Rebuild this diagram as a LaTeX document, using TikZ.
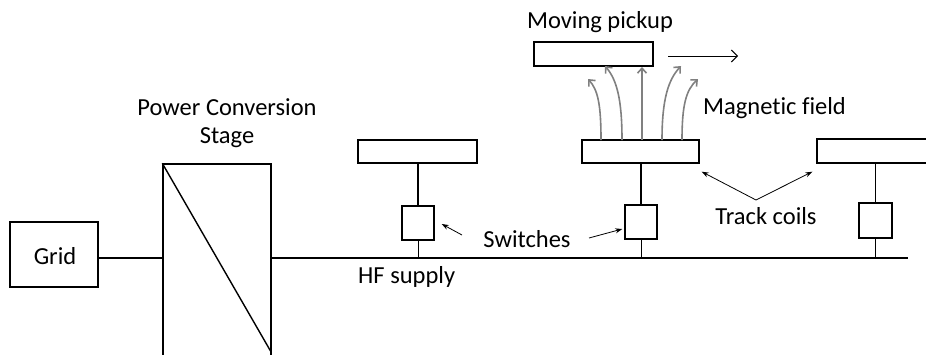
\documentclass[tikz,border=0pt]{standalone}
\usepackage{fontspec}
\setmainfont[Ligatures={NoCommon}]{Carlito}
\usetikzlibrary{arrows.meta,calc}
\tikzset{
  lbl/.style={font=\fontsize{24.5}{28}\selectfont, inner sep=0pt, align=center},
  blk/.style={draw, line width=1.4pt, inner sep=0pt},
  wire/.style={line width=1.4pt},
  thinwire/.style={line width=0.8pt},
  pointer/.style={line width=0.8pt, -{Stealth[length=7pt,width=5pt]}},
  field/.style={draw=gray, line width=1.6pt, -{Straight Barb[length=5pt,width=9pt]}}
}
\begin{document}
\begin{tikzpicture}[x=1pt,y=-1pt]
\useasboundingbox (0,0) rectangle (926,354);
\clip (0,0) rectangle (926,354);
% blocks
\node[blk, minimum width=88pt, minimum height=65pt] (grid) at (54,254.5) {};
\node[lbl] (gridt) at (55,256) {Grid};
\node[blk, minimum width=108pt, minimum height=200pt] (pcs) at (217,264) {};
\draw[wire] (pcs.north west) -- ($(pcs.north east)+(-1,188)$);
\node[lbl] (pcst) at (227,123) {Power Conversion\\Stage};
\coordinate (hfend) at (908,258);
\draw[wire] (grid.east |- hfend) -- (pcs.west |- hfend);
\draw[wire] (pcs.east |- hfend) -- (hfend);
\node[lbl, anchor=west] (hft) at (358,277) {HF supply};
% coils and switches
\node[blk, minimum width=119pt, minimum height=23pt] (coil1) at (417.5,151.5) {};
\node[blk, minimum width=32pt, minimum height=34pt] (sw1) at (418,223) {};
\node[blk, minimum width=117pt, minimum height=23pt] (coil2) at (640.5,151.5) {};
\node[blk, minimum width=32pt, minimum height=34pt] (sw2) at (641,222) {};
\node[blk, minimum width=125pt, minimum height=24pt] (coil3) at (879.5,151) {};
\node[blk, minimum width=33pt, minimum height=35pt] (sw3) at (875.5,220.5) {};
\foreach \i in {1,2,3}{
  \draw[wire] (sw\i.north |- coil\i.south) -- (sw\i.north);
  \draw[thinwire] (sw\i.south) -- (sw\i.south |- hfend);
}
% pickup
\node[blk, minimum width=119pt, minimum height=24pt] (pickup) at (593.5,54) {};
\node[lbl] (pickupt) at (600,22) {Moving pickup};
\coordinate (mvs) at (668,56);
\coordinate (mve) at (738,56);
\draw[line width=1pt, -{Straight Barb[length=6pt,width=12pt]}] (mvs) -- (mve);
% field lines
\coordinate (f1s) at (601,140); \coordinate (f1e) at (588,79);
\coordinate (f2s) at (622,140); \coordinate (f2e) at (605,66);
\coordinate (f3s) at (642,140); \coordinate (f3e) at (642,67);
\coordinate (f4s) at (662,140); \coordinate (f4e) at (681,66);
\coordinate (f5s) at (682,140); \coordinate (f5e) at (698,79);
\draw[field] (f1s) .. controls (601,105) and (598,90) .. (f1e);
\draw[field] (f2s) .. controls (622,100) and (617,80) .. (f2e);
\draw[field] (f3s) -- (f3e);
\draw[field] (f4s) .. controls (662,100) and (668,80) .. (f4e);
\draw[field] (f5s) .. controls (682,105) and (686,90) .. (f5e);
\node[lbl] (magt) at (774.5,108) {Magnetic field};
% annotations
\node[lbl] (trackt) at (766,216) {Track coils};
\coordinate (tc) at (756,200);
\draw[pointer] (tc) -- ($(coil2.south east)+(2,8)$);
\draw[pointer] (tc) -- ($(coil3.south west)+(-4,8)$);
\node[lbl] (swt) at (527,239) {Switches};
\coordinate (s1) at (462,235);
\coordinate (s2) at (589,238);
\draw[pointer] (s1) -- ($(sw1.east)+(7,1)$);
\draw[pointer] (s2) -- ($(sw2.west)+(-2,7)$);
\end{tikzpicture}
\end{document}
